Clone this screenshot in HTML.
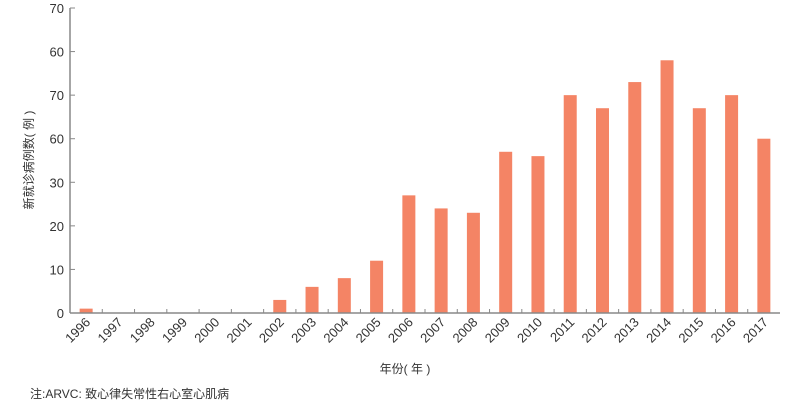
<!DOCTYPE html>
<html><head><meta charset="utf-8"><style>
body{margin:0;background:#fff;}
svg text{font-family:"Liberation Sans","Noto Sans CJK SC",sans-serif;fill:#333;}
</style></head><body>
<svg width="795" height="403" viewBox="0 0 795 403">
<g id="plot"></g>
<text x="33" y="160" font-size="12" transform="rotate(-90 33 160)" text-anchor="middle">新就诊病例数( 例 )</text>
<text x="405" y="373" font-size="12" text-anchor="middle">年份( 年 )</text>
<text x="30" y="398" font-size="12">注:ARVC: 致心律失常性右心室心肌病</text>
</svg>
<script>
const years=["1996","1997","1998","1999","2000","2001","2002","2003","2004","2005","2006","2007","2008","2009","2010","2011","2012","2013","2014","2015","2016","2017"];
const cases=[1,0,0,0,0,0,3,6,8,12,27,24,23,37,36,50,47,53,58,47,50,40];
const tickValues=[0,10,20,30,40,50,60,70];
const tickLabels=["0","10","20","30","60","70","60","70"];
const NS="http://www.w3.org/2000/svg";
const g=document.getElementById('plot');
const x0=70,x1=780,y0=313,y1=8,yMax=70;
const band=(x1-x0)/years.length;
const y=v=>y0-(v/yMax)*(y0-y1);
const xc=i=>x0+band*(i+0.5);
function mk(t,a){const e=document.createElementNS(NS,t);for(const k in a)e.setAttribute(k,a[k]);g.appendChild(e);return e;}
cases.forEach((v,i)=>{if(v<=0)return;const r=mk('rect',{x:xc(i)-6.5,y:y(v),width:13,height:y0-y(v),fill:'#f48465'});

});
const ax=mk('line',{x1:x0,y1:y1,x2:x0,y2:y0,stroke:'#888','stroke-width':1.5});


const bx=mk('line',{x1:x0,y1:y0,x2:x1,y2:y0,stroke:'#888','stroke-width':1.5});


tickValues.forEach((v,i)=>{mk('line',{x1:x0,y1:y(v),x2:x0+5,y2:y(v),stroke:'#888'});
const t=mk('text',{x:x0-6,y:y(v)+5,'font-size':13,'text-anchor':'end'});t.textContent=tickLabels[i];

});
years.forEach((yr,i)=>{if(i>0)mk('line',{x1:x0+band*i,y1:y0,x2:x0+band*i,y2:y0-4,stroke:'#888'});
const cx=xc(i)+5,cy=y0+10;
const t=mk('text',{x:cx,y:cy,'font-size':13,'text-anchor':'end',transform:`rotate(-45 ${cx} ${cy})`});t.textContent=yr;

});
</script>
</body></html>
